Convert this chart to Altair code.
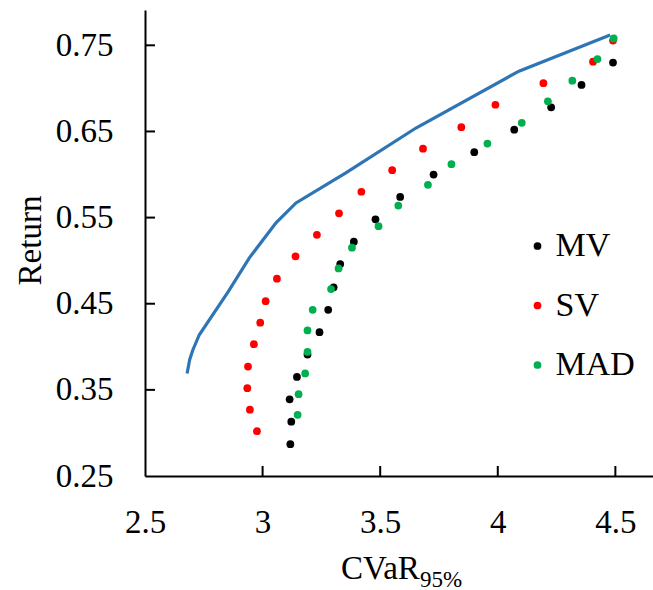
import altair as alt
import pandas as pd

# ---- data ----
mv_x = [3.118, 3.122, 3.115, 3.146, 3.191, 3.242, 3.279, 3.302, 3.330, 3.388,
        3.480, 3.585, 3.727, 3.900, 4.070, 4.227, 4.356, 4.490]
mv_y = [0.287, 0.313, 0.339, 0.365, 0.391, 0.417, 0.443, 0.469, 0.496, 0.522,
        0.548, 0.574, 0.600, 0.626, 0.652, 0.678, 0.704, 0.730]

sv_x = [2.976, 2.946, 2.935, 2.938, 2.963, 2.990, 3.013, 3.061, 3.140, 3.231,
        3.325, 3.420, 3.551, 3.682, 3.845, 3.990, 4.194, 4.405, 4.490]
sv_y = [0.302, 0.327, 0.352, 0.377, 0.403, 0.428, 0.453, 0.479, 0.505, 0.530,
        0.555, 0.580, 0.605, 0.630, 0.655, 0.681, 0.706, 0.731, 0.7555]

mad_x = [3.149, 3.153, 3.181, 3.191, 3.191, 3.213, 3.291, 3.323, 3.380, 3.493,
         3.577, 3.703, 3.803, 3.956, 4.102, 4.213, 4.317, 4.424, 4.493]
mad_y = [0.321, 0.345, 0.369, 0.394, 0.419, 0.443, 0.467, 0.491, 0.515, 0.540,
         0.564, 0.588, 0.612, 0.636, 0.660, 0.685, 0.709, 0.734, 0.758]

frontier_x = [2.679, 2.690, 2.703, 2.731, 2.854, 2.943, 3.057, 3.142, 3.354,
              3.652, 4.090, 4.478]
frontier_y = [0.369, 0.385, 0.396, 0.414, 0.464, 0.503, 0.544, 0.567, 0.602,
              0.654, 0.720, 0.762]

models = ["MV", "SV", "MAD"]
colors = ["#000000", "#FF0000", "#00B050"]

x_ticks = [2.5, 3, 3.5, 4, 4.5]
y_ticks = [0.25, 0.35, 0.45, 0.55, 0.65, 0.75]
x_inner_ticks = [3, 3.5, 4, 4.5]
y_inner_ticks = [0.35, 0.45, 0.55, 0.65, 0.75]

# ---- tables ----
rows = []
for name, xs_, ys_ in [("MV", mv_x, mv_y), ("SV", sv_x, sv_y), ("MAD", mad_x, mad_y)]:
    for a, b in zip(xs_, ys_):
        rows.append({"model": name, "cvar": a, "ret": b})
pts = pd.DataFrame(rows)
pts["order"] = range(len(pts))
front = pd.DataFrame({"cvar": frontier_x, "ret": frontier_y})
xt_df = pd.DataFrame({"cvar": x_inner_ticks})
yt_df = pd.DataFrame({"ret": y_inner_ticks})
one = pd.DataFrame({"a": [0]})

FONT = "'Liberation Serif', 'Times New Roman', Times, 'DejaVu Serif', serif"
W, H = 508, 466

xscale = alt.Scale(domain=[2.5, 4.66], nice=False, zero=False)
yscale = alt.Scale(domain=[0.25, 0.791], nice=False, zero=False)

xaxis = alt.Axis(values=x_ticks, format=".1~f", ticks=False, tickSize=0,
                 labelPadding=30, labelFont=FONT, labelFontSize=33,
                 labelColor="black", domainColor="black", domainWidth=2,
                 grid=False, title=None, labelFlush=False, labelOverlap=False)
yaxis = alt.Axis(values=y_ticks, format=".2f", ticks=False, tickSize=0,
                 labelPadding=32, labelFont=FONT, labelFontSize=33,
                 labelColor="black", domainColor="black", domainWidth=2,
                 grid=False, title="Return", titleFont=FONT, titleFontSize=33,
                 titleFontWeight="normal", titleColor="black", titleAngle=270,
                 titleX=-105, titleY=230, titleAlign="center",
                 titleBaseline="alphabetic", labelFlush=False, labelOverlap=False)

X = alt.X("cvar:Q", scale=xscale, axis=xaxis)
Y = alt.Y("ret:Q", scale=yscale, axis=yaxis)

line = alt.Chart(front).mark_line(color="#2E75B6", strokeWidth=3.2).encode(x=X, y=Y)

points = alt.Chart(pts).mark_circle(size=60, opacity=1).encode(
    x=X, y=Y,
    color=alt.Color("model:N", scale=alt.Scale(domain=models, range=colors),
                    legend=alt.Legend(title=None, orient="none", legendX=375.5,
                                      legendY=219, symbolType="circle",
                                      symbolSize=60, symbolStrokeWidth=0,
                                      symbolOpacity=1, labelFont=FONT,
                                      labelFontSize=34, labelColor="black",
                                      labelOffset=1, rowPadding=25.5, padding=0)),
    order=alt.Order("order:Q"),
)

xticks = alt.Chart(xt_df).mark_rule(color="black", strokeWidth=2).encode(
    x=X, y=alt.value(H), y2=alt.value(H - 10))
yticks = alt.Chart(yt_df).mark_rule(color="black", strokeWidth=2).encode(
    y=Y, x=alt.value(0), x2=alt.value(10))

title_main = alt.Chart(one).mark_text(text="CVaR", font=FONT, fontSize=33,
                                      align="left", baseline="alphabetic",
                                      color="black").encode(
    x=alt.value(196), y=alt.value(569))
title_sub = alt.Chart(one).mark_text(text="95%", font=FONT, fontSize=23,
                                     align="left", baseline="alphabetic",
                                     color="black").encode(
    x=alt.value(275), y=alt.value(577))

chart = alt.layer(line, points, xticks, yticks, title_main, title_sub).properties(
    width=W, height=H,
    autosize=alt.AutoSizeParams(type="none"),
    padding={"left": 145, "top": 10, "right": 0, "bottom": 114},
).configure_view(stroke=None)

chart.save("out.html", embed_options={"renderer": "svg", "actions": False})
